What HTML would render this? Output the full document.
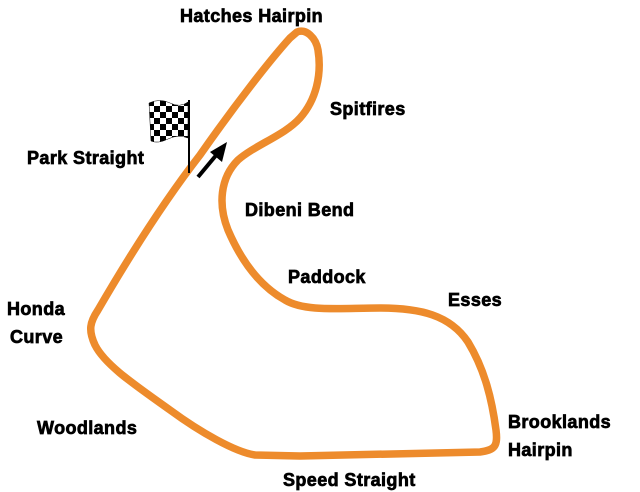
<!DOCTYPE html>
<html><head><style>
body{margin:0;background:#fff;}
svg{display:block;}
text{font-family:"Liberation Sans",Arial,sans-serif;font-weight:bold;font-size:18px;letter-spacing:0.4px;fill:#000;stroke:#000;stroke-width:0.7px;}
</style></head><body>
<svg width="640" height="492" viewBox="0 0 640 492" xmlns="http://www.w3.org/2000/svg">
<defs>
<pattern id="chk" x="148" y="100" width="12" height="12" patternUnits="userSpaceOnUse">
<rect width="12" height="12" fill="#fff"/>
<rect width="6" height="6" fill="#000"/>
<rect x="6" y="6" width="6" height="6" fill="#000"/>
</pattern>
</defs>
<path d="M297,32 C306,28 316,38 318,50 C322,75 316,100 300,118 C285,135 255,145 238,160 C220,178 218,205 228,230 C240,258 258,285 285,300 C305,312 340,308 380,308 C420,308 450,315 468,342 C485,370 492,400 496,430 C498,446 495,450 480,452 L300,456 L255,455 C235,452 200,432 170,410 C135,385 105,365 95,345 C88,330 90,322 98,310 C130,255 165,200 200,155 C235,105 270,60 290,38 Z" fill="none" stroke="#ED8B2C" stroke-width="7.5" stroke-linejoin="round"/>
<path d="M149,103 Q160,98 170,103 T188,102 L188,138 Q178,134 168,139 T151,141 Z" fill="url(#chk)" stroke="#000" stroke-width="0.5"/>
<line x1="189" y1="100" x2="189" y2="173" stroke="#000" stroke-width="2"/>
<line x1="198" y1="177" x2="218" y2="153" stroke="#000" stroke-width="4"/>
<polygon points="227,142 210,152 222,162" fill="#000"/>
<text x="180" y="22">Hatches Hairpin</text>
<text x="330" y="115">Spitfires</text>
<text x="27" y="164">Park Straight</text>
<text x="245" y="216">Dibeni Bend</text>
<text x="288" y="283">Paddock</text>
<text x="448" y="306">Esses</text>
<text x="7" y="315">Honda</text>
<text x="10" y="343">Curve</text>
<text x="37" y="434">Woodlands</text>
<text x="508" y="428">Brooklands</text>
<text x="508" y="456">Hairpin</text>
<text x="283" y="486">Speed Straight</text>
</svg>
</body></html>
